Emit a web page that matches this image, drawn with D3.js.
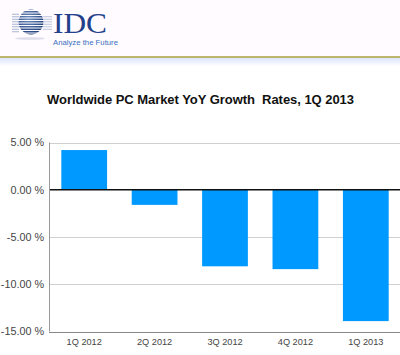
<!DOCTYPE html>
<html><head><meta charset="utf-8">
<script src="https://cdn.jsdelivr.net/npm/d3@7"></script>
<style>body{margin:0;background:#fff}svg{display:block}</style>
</head><body>
<script>
const categories = ["1Q 2012","2Q 2012","3Q 2012","4Q 2012","1Q 2013"];
const growth = [4.2, -1.6, -8.1, -8.4, -13.9];
const yTicks = [5, 0, -5, -10, -15];
const title = "Worldwide PC Market YoY Growth\u00a0 Rates, 1Q 2013";

(function(){
const W = 400, H = 355;
const svg = d3.select("body").append("svg").attr("width", W).attr("height", H);

// header
svg.append("rect").attr("x",0).attr("y",0).attr("width",W).attr("height",56).attr("fill","#fffbfe");
svg.append("rect").attr("x",0).attr("y",56).attr("width",W).attr("height",2).attr("fill","#bdb56a");
const defs = svg.append("defs");
const hg = defs.append("linearGradient").attr("id","hb").attr("x1",0).attr("y1",0).attr("x2",0).attr("y2",1);
hg.append("stop").attr("offset",0).attr("stop-color","#dbe4fa");
hg.append("stop").attr("offset",1).attr("stop-color","#ffffff");
svg.append("rect").attr("x",0).attr("y",58).attr("width",W).attr("height",8).attr("fill","url(#hb)");

// logo globe
const rg = defs.append("radialGradient").attr("id","gl").attr("cx","40%").attr("cy","35%").attr("r","70%");
rg.append("stop").attr("offset",0).attr("stop-color","#6f8fc0");
rg.append("stop").attr("offset",1).attr("stop-color","#1c3c78");
const logo = svg.append("g");
logo.append("circle").attr("cx",31).attr("cy",22).attr("r",12.5).attr("fill","url(#gl)");
const stripes = d3.range(10.5,35,2.5);
logo.selectAll("line.s").data(stripes).join("line")
  .attr("x1",8).attr("x2",52).attr("y1",d=>d).attr("y2",d=>d)
  .attr("stroke","#fffbfe").attr("stroke-width",1.0);
logo.selectAll("line.t").data(stripes.slice(1,-1)).join("line")
  .attr("x1",12).attr("x2",19).attr("y1",d=>d+1.25).attr("y2",d=>d+1.25)
  .attr("stroke","#8fa3c8").attr("stroke-width",0.8);
logo.selectAll("line.u").data(stripes.slice(2,-2)).join("line")
  .attr("x1",43).attr("x2",52).attr("y1",d=>d+1.25).attr("y2",d=>d+1.25)
  .attr("stroke","#a8b6d2").attr("stroke-width",0.8);
svg.append("ellipse").attr("cx",30).attr("cy",38.5).attr("rx",15).attr("ry",1.3).attr("fill","#dcdcea");
svg.append("text").attr("x",53).attr("y",32.5).attr("font-family","Liberation Serif, serif")
  .attr("font-size",30).attr("fill","#23408a").attr("textLength",54).attr("lengthAdjust","spacingAndGlyphs").text("IDC");
svg.append("text").attr("x",53).attr("y",44.5).attr("font-family","Liberation Sans, Arial, sans-serif")
  .attr("font-size",7).attr("fill","#3a6fc0").attr("textLength",65).attr("lengthAdjust","spacingAndGlyphs").text("Analyze the Future");

// title
svg.append("text").attr("x",47).attr("y",104)
  .attr("font-family","Liberation Sans, Arial, sans-serif").attr("font-weight","bold")
  .attr("font-size",13).attr("fill","#111").attr("textLength",307).text(title);

// chart
const pl = 49, pr = 401, pt = 142.5, pb = 331.5;
const y = d3.scaleLinear().domain([-15,5]).range([pb, pt]);
const x = d3.scaleBand().domain(categories).range([pl, pr]).paddingInner(0.35).paddingOuter(0.175);

const g = svg.append("g");
g.selectAll("line.grid").data(yTicks.filter(d=>d!==0 && d!==-15)).join("line")
  .attr("x1",pl).attr("x2",W).attr("y1",d=>Math.round(y(d))+0.5).attr("y2",d=>Math.round(y(d))+0.5)
  .attr("stroke","#d0d0d0").attr("stroke-width",1);

g.selectAll("rect.bar").data(growth).join("rect")
  .attr("x",(d,i)=>x(categories[i])).attr("width",x.bandwidth())
  .attr("y",d=>y(Math.max(0,d))).attr("height",d=>Math.abs(y(d)-y(0)))
  .attr("fill","#0099ff");

g.append("line").attr("x1",pl).attr("x2",W).attr("y1",y(0)).attr("y2",y(0)).attr("stroke","#111").attr("stroke-width",1.3);
g.append("line").attr("x1",pl).attr("x2",W).attr("y1",Math.round(y(-15))+0.5).attr("y2",Math.round(y(-15))+0.5).attr("stroke","#888").attr("stroke-width",1.2);
g.append("line").attr("x1",pl+0.5).attr("x2",pl+0.5).attr("y1",pt).attr("y2",pb).attr("stroke","#999").attr("stroke-width",1);

const yAxis = d3.axisLeft(y).tickValues(yTicks).tickSize(0).tickPadding(5)
  .tickFormat(d=>d3.format(".2f")(d).replace("\u2212","-")+" %");
const ya = svg.append("g").attr("transform",`translate(${pl},0)`).call(yAxis);
ya.select(".domain").remove();
ya.selectAll("text").attr("font-family","Liberation Sans, Arial, sans-serif").attr("font-size",10.8).attr("fill","#444");

const xAxis = d3.axisBottom(x).tickSize(0).tickPadding(7);
const xa = svg.append("g").attr("transform",`translate(0,${pb})`).call(xAxis);
xa.select(".domain").remove();
xa.selectAll("text").attr("font-family","Liberation Sans, Arial, sans-serif").attr("font-size",9.2).attr("fill","#444");
})();
</script>
</body></html>
